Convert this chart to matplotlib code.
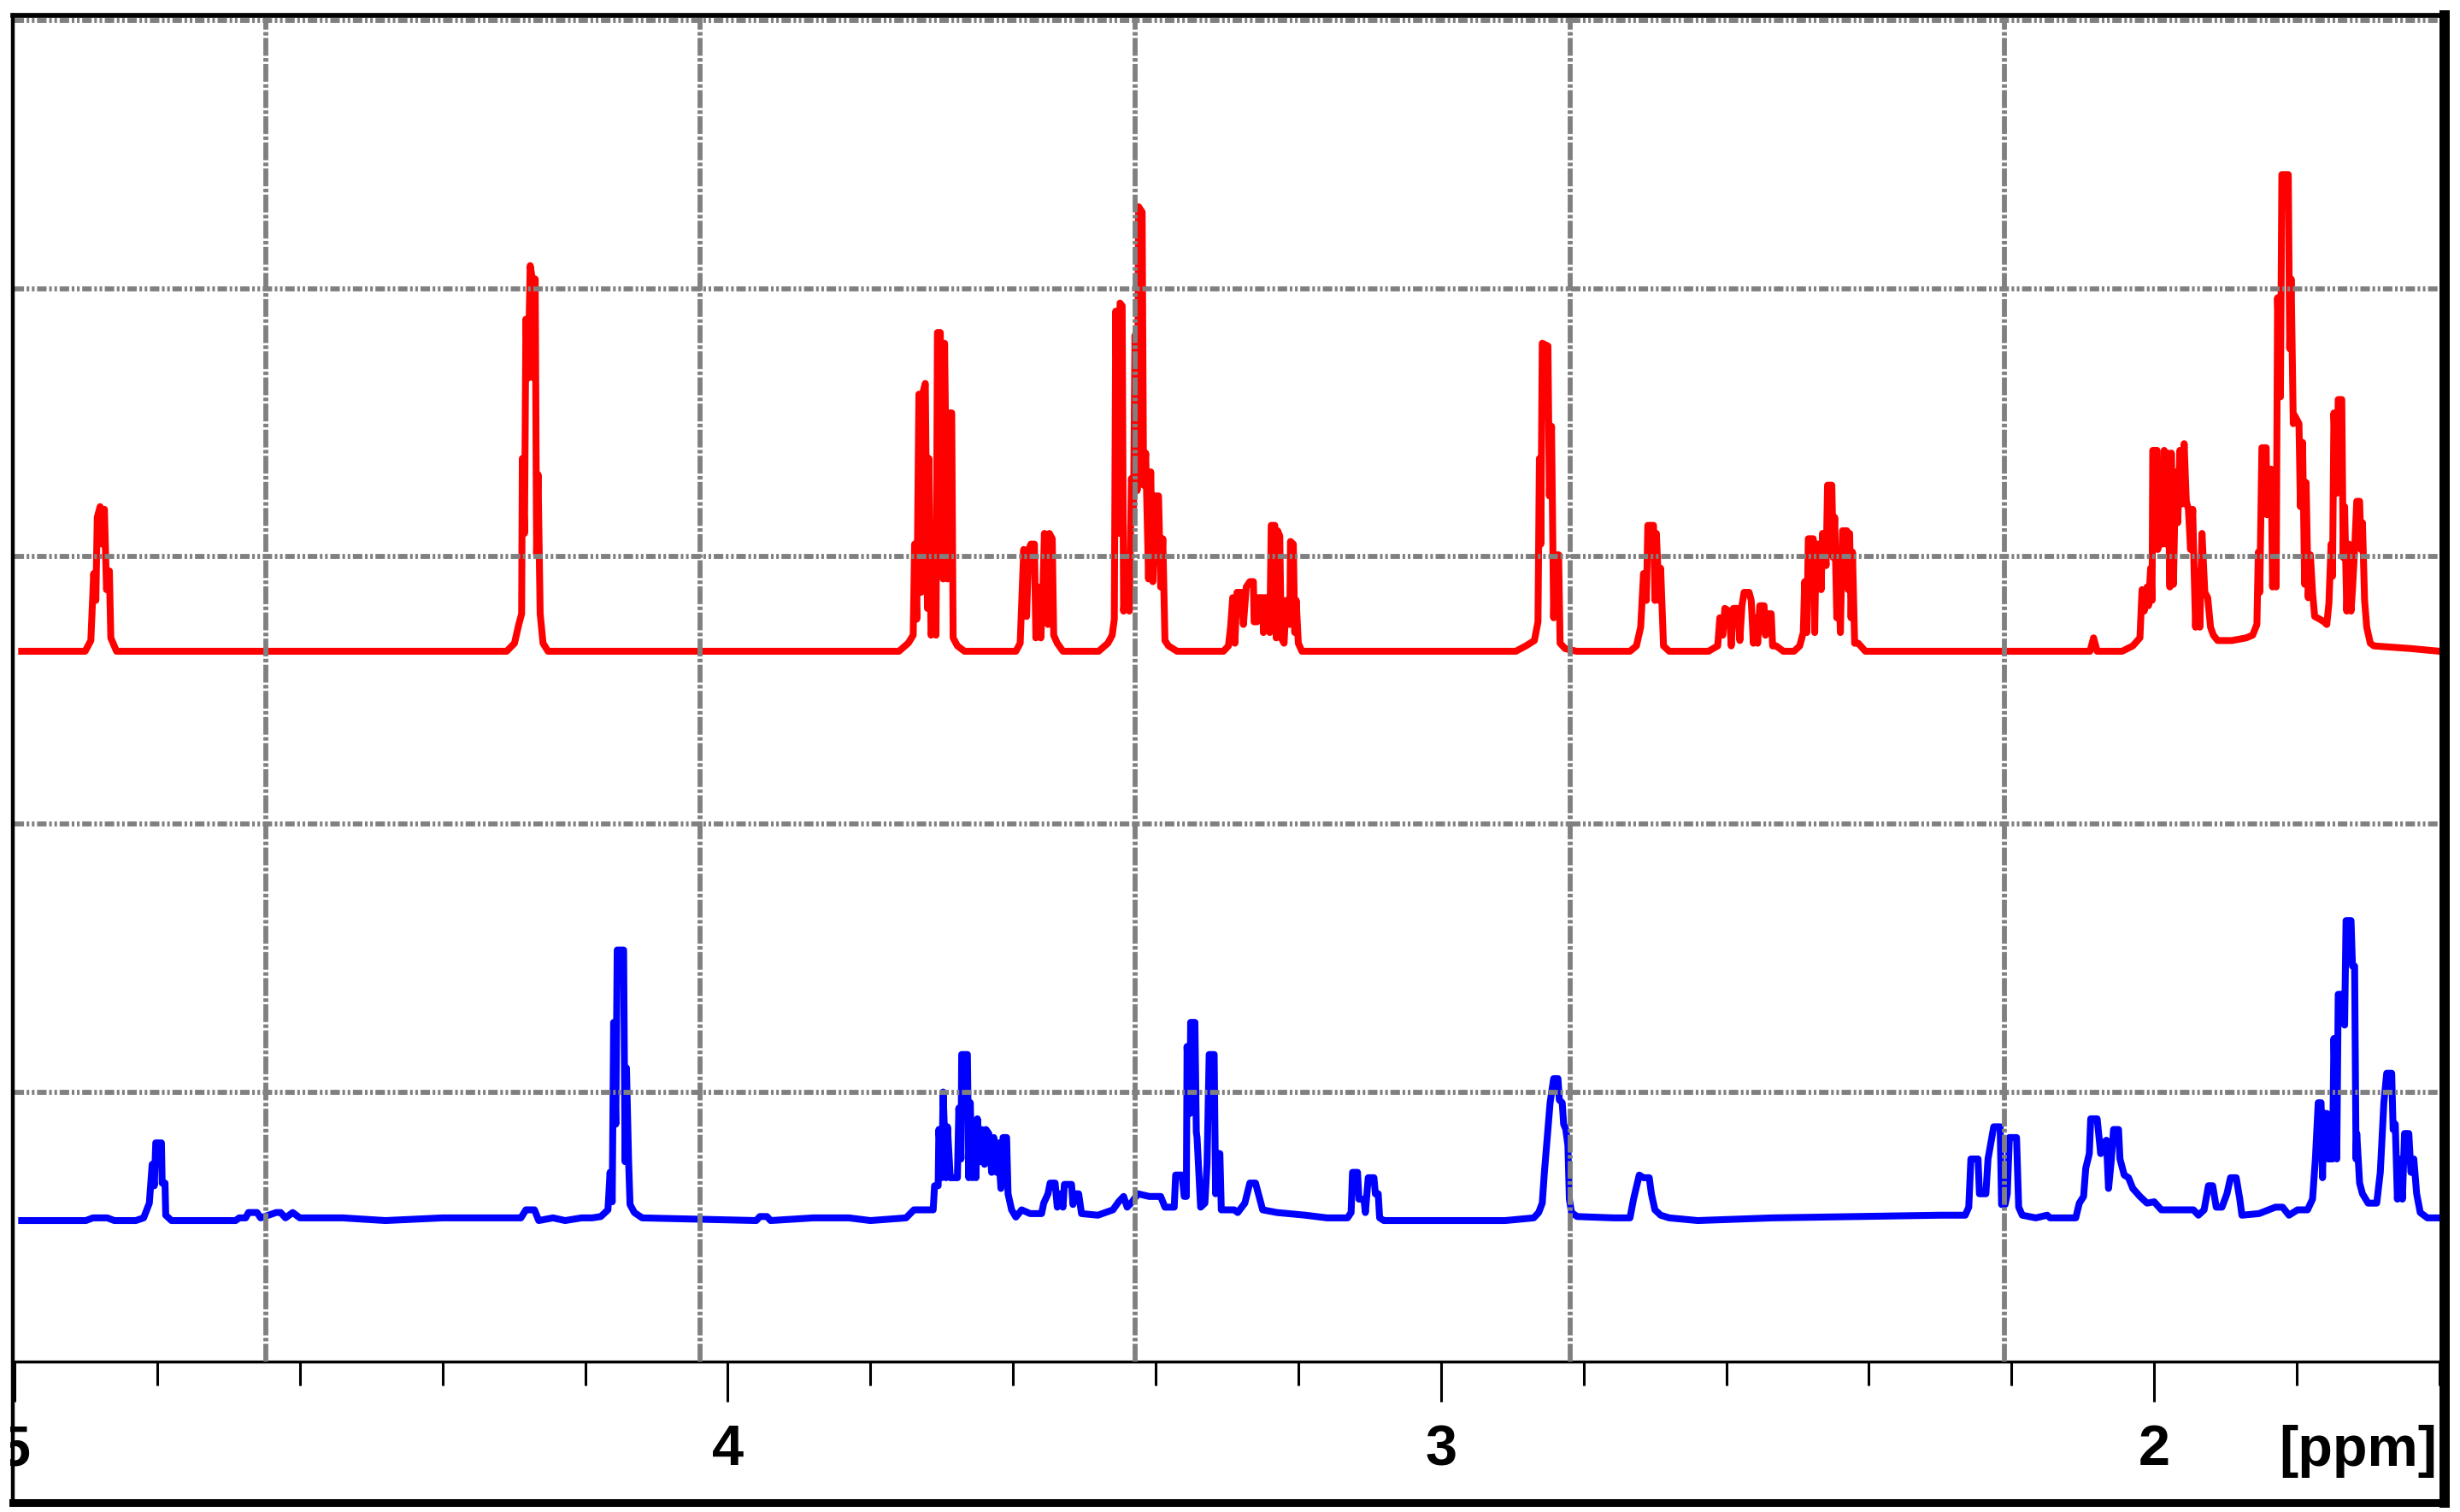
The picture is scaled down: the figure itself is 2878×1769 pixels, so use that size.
import matplotlib
matplotlib.use("Agg")
import numpy as np
import matplotlib.pyplot as plt
from matplotlib.lines import Line2D
from matplotlib.patches import Rectangle

plt.rcParams['font.family'] = ['Liberation Sans', 'DejaVu Sans']
plt.rcParams['lines.scale_dashes'] = False

# upper trace (red), intensity in grid units above its own baseline
red_ppm = [
    4.990,
    4.901, 4.893, 4.889, 4.886, 4.884, 4.880, 4.877, 4.874, 4.871, 4.867, 4.865, 4.857,
    4.310, 4.299, 4.293, 4.289, 4.288, 4.285, 4.283, 4.280, 4.277, 4.274, 4.272, 4.270, 4.268, 4.266, 4.263, 4.259, 4.252,
    3.760, 3.747, 3.740, 3.738, 3.735, 3.732, 3.729, 3.727, 3.723, 3.720, 3.718, 3.715, 3.712, 3.708, 3.706, 3.702,
    3.698, 3.696, 3.692, 3.690, 3.686, 3.684, 3.678, 3.668,
    3.596, 3.590, 3.585, 3.581, 3.578, 3.575, 3.570, 3.568, 3.564, 3.561, 3.558, 3.556, 3.551, 3.549, 3.545, 3.543,
    3.538, 3.530,
    3.480, 3.467, 3.461, 3.458, 3.456, 3.452, 3.450, 3.447, 3.445, 3.441, 3.437, 3.434, 3.431, 3.429, 3.426, 3.424,
    3.419, 3.417, 3.414, 3.410, 3.407, 3.404, 3.401, 3.396, 3.393, 3.390, 3.387, 3.382, 3.370,
    3.305, 3.298, 3.295, 3.292, 3.289, 3.286, 3.280, 3.277, 3.273, 3.268, 3.263, 3.262, 3.258, 3.256, 3.250, 3.249,
    3.246, 3.241, 3.240, 3.238, 3.233, 3.231, 3.229, 3.226, 3.224, 3.220, 3.217, 3.212, 3.211, 3.207, 3.205, 3.203,
    3.200, 3.195,
    2.895, 2.881, 2.869, 2.864, 2.862, 2.860, 2.858, 2.850, 2.848, 2.845, 2.842, 2.840, 2.835, 2.833, 2.826, 2.810,
    2.735, 2.726, 2.720, 2.716, 2.712, 2.710, 2.702, 2.700, 2.698, 2.694, 2.692, 2.688, 2.680,
    2.625, 2.612, 2.609, 2.605, 2.602, 2.596, 2.593, 2.590, 2.583, 2.581, 2.578, 2.575, 2.568, 2.565, 2.562, 2.558,
    2.556, 2.553, 2.547, 2.545, 2.541, 2.537, 2.535, 2.530, 2.520,
    2.505, 2.497, 2.492, 2.490, 2.487, 2.485, 2.478, 2.476, 2.474, 2.469, 2.467, 2.465, 2.460, 2.458, 2.452, 2.450,
    2.448, 2.445, 2.443, 2.440, 2.437, 2.431, 2.429, 2.427, 2.425, 2.423, 2.420, 2.415, 2.405,
    2.090, 2.085, 2.080,
    2.045, 2.030, 2.020, 2.017, 2.014, 2.010, 2.008, 2.005, 2.003, 2.002, 1.996, 1.995, 1.993, 1.989, 1.986, 1.983,
    1.981, 1.978, 1.976, 1.973, 1.970, 1.967, 1.964, 1.961, 1.958, 1.955, 1.952, 1.949, 1.946, 1.944, 1.942, 1.939,
    1.936, 1.933, 1.929, 1.925, 1.921, 1.917, 1.911, 1.891, 1.871, 1.862, 1.856,
    1.854, 1.852, 1.849, 1.843, 1.842, 1.840, 1.836, 1.834, 1.832, 1.829, 1.827, 1.823, 1.821, 1.812, 1.810, 1.808,
    1.805, 1.803, 1.797, 1.795, 1.792, 1.789, 1.787, 1.784, 1.781, 1.778, 1.775, 1.768, 1.762, 1.758, 1.755, 1.752,
    1.750, 1.748, 1.744, 1.742, 1.737, 1.735, 1.733, 1.730, 1.727, 1.724, 1.722, 1.719, 1.716, 1.712, 1.710, 1.708,
    1.705, 1.702, 1.697, 1.692, 1.640, 1.600,
]
red_int = [
    0.0,
    0.0, 0.04, 0.29, 0.19, 0.50, 0.54, 0.40, 0.53, 0.23, 0.30, 0.05, 0.0,
    0.0, 0.03, 0.10, 0.14, 0.72, 0.44, 1.24, 1.02, 1.44, 1.39, 1.02, 1.39, 0.36, 0.66, 0.14, 0.03, 0.0,
    0.0, 0.03, 0.06, 0.40, 0.12, 0.96, 0.22, 0.96, 1.00, 0.16, 0.72, 0.06, 0.10, 0.06, 1.19, 1.19,
    0.27, 1.15, 0.27, 0.89, 0.89, 0.05, 0.02, 0.0,
    0.0, 0.03, 0.38, 0.13, 0.38, 0.40, 0.40, 0.05, 0.24, 0.05, 0.24, 0.44, 0.10, 0.44, 0.42, 0.06,
    0.03, 0.0,
    0.0, 0.03, 0.06, 0.12, 1.27, 0.44, 1.30, 1.29, 0.15, 0.27, 0.15, 0.645, 0.54, 1.18, 0.60, 1.66,
    1.64, 0.62, 0.74, 0.27, 0.67, 0.26, 0.58, 0.58, 0.24, 0.42, 0.04, 0.02, 0.0,
    0.0, 0.02, 0.09, 0.20, 0.03, 0.22, 0.22, 0.10, 0.24, 0.26, 0.26, 0.11, 0.11, 0.20, 0.20, 0.07,
    0.20, 0.20, 0.07, 0.47, 0.47, 0.05, 0.45, 0.43, 0.05, 0.03, 0.19, 0.10, 0.41, 0.40, 0.07, 0.19,
    0.03, 0.0,
    0.0, 0.02, 0.04, 0.11, 0.72, 0.40, 1.15, 1.14, 0.58, 0.84, 0.125, 0.36, 0.36, 0.03, 0.01, 0.0,
    0.0, 0.02, 0.09, 0.29, 0.19, 0.47, 0.47, 0.19, 0.44, 0.19, 0.31, 0.02, 0.0,
    0.0, 0.02, 0.125, 0.06, 0.16, 0.15, 0.02, 0.16, 0.16, 0.04, 0.17, 0.22, 0.22, 0.19, 0.03, 0.125,
    0.03, 0.17, 0.17, 0.06, 0.14, 0.14, 0.02, 0.02, 0.0,
    0.0, 0.02, 0.07, 0.26, 0.07, 0.42, 0.42, 0.07, 0.40, 0.40, 0.23, 0.44, 0.32, 0.62, 0.62, 0.35,
    0.50, 0.125, 0.37, 0.07, 0.45, 0.45, 0.23, 0.44, 0.125, 0.37, 0.03, 0.03, 0.0,
    0.0, 0.05, 0.0,
    0.0, 0.02, 0.05, 0.23, 0.15, 0.24, 0.17, 0.31, 0.19, 0.75, 0.75, 0.38, 0.645, 0.40, 0.75, 0.40,
    0.74, 0.24, 0.74, 0.25, 0.67, 0.48, 0.75, 0.55, 0.775, 0.56, 0.53, 0.38, 0.53, 0.30, 0.09, 0.30,
    0.09, 0.44, 0.22, 0.20, 0.09, 0.06, 0.04, 0.04, 0.05, 0.06, 0.10,
    0.37, 0.22, 0.76, 0.76, 0.51, 0.68, 0.68, 0.24, 0.37, 0.24, 1.32, 0.95, 1.78, 1.78, 1.13, 1.39,
    0.85, 0.88, 0.85, 0.54, 0.78, 0.25, 0.63, 0.20, 0.36, 0.22, 0.13, 0.12, 0.11, 0.10, 0.18, 0.40,
    0.28, 0.89, 0.59, 0.94, 0.94, 0.35, 0.54, 0.15, 0.40, 0.15, 0.23, 0.38, 0.56, 0.56, 0.38, 0.48,
    0.19, 0.09, 0.03, 0.02, 0.01, 0.0,
]

# lower trace (blue)
blue_ppm = [
    4.990, 4.900, 4.890, 4.870, 4.860,
    4.830, 4.819, 4.811, 4.807, 4.804, 4.802, 4.794, 4.793, 4.789, 4.788, 4.780,
    4.690, 4.685, 4.676, 4.672, 4.660, 4.655, 4.633, 4.627, 4.620, 4.610, 4.600, 4.540, 4.480,
    4.400, 4.350, 4.290, 4.283, 4.271, 4.265, 4.245, 4.228, 4.205,
    4.190, 4.178, 4.168, 4.165, 4.162, 4.160, 4.157, 4.155, 4.146, 4.144, 4.142, 4.139, 4.137, 4.131, 4.120,
    3.960, 3.955, 3.945, 3.940, 3.880, 3.830, 3.800,
    3.750, 3.739, 3.712, 3.710, 3.705, 3.704, 3.700, 3.698, 3.694, 3.692, 3.688, 3.678, 3.676, 3.673, 3.672, 3.664,
    3.662, 3.660, 3.657, 3.655, 3.652, 3.650, 3.646, 3.644, 3.640, 3.638, 3.634, 3.630, 3.627, 3.623, 3.621, 3.617,
    3.614, 3.609, 3.607, 3.602, 3.596, 3.588, 3.576, 3.560, 3.557, 3.551, 3.548, 3.541, 3.538, 3.534, 3.530, 3.528,
    3.518, 3.516, 3.513, 3.508, 3.504, 3.481, 3.460, 3.452, 3.445, 3.440, 3.433, 3.425, 3.409, 3.393, 3.387, 3.374,
    3.372, 3.363, 3.360, 3.357, 3.356, 3.352, 3.351, 3.345, 3.343, 3.342, 3.337, 3.331, 3.328, 3.325, 3.318, 3.316,
    3.314, 3.310, 3.308, 3.290,
    3.285, 3.275, 3.268, 3.260, 3.255, 3.250, 3.230, 3.190, 3.160, 3.131, 3.126, 3.124, 3.117, 3.115, 3.108, 3.106,
    3.102, 3.094, 3.092, 3.088, 3.086, 3.080, 2.910,
    2.870, 2.863, 2.858, 2.855, 2.851, 2.847, 2.842, 2.836, 2.834, 2.830, 2.828, 2.825, 2.822, 2.820, 2.817, 2.809,
    2.758, 2.735, 2.730, 2.722,
    2.716, 2.708, 2.705, 2.700, 2.692, 2.680, 2.640, 2.535, 2.300, 2.265, 2.260, 2.257, 2.247, 2.245, 2.236, 2.233,
    2.229, 2.225, 2.216, 2.214, 2.209, 2.206, 2.203, 2.193, 2.190, 2.185, 2.166, 2.150,
    2.146, 2.110, 2.105, 2.099, 2.096, 2.091, 2.089, 2.080, 2.075, 2.071, 2.067, 2.064, 2.060, 2.057, 2.050, 2.048,
    2.042, 2.036, 2.030, 2.020, 2.010, 2.000, 1.990, 1.945, 1.938, 1.930, 1.924, 1.918, 1.913, 1.905, 1.898, 1.893,
    1.885, 1.880, 1.877, 1.853, 1.830, 1.820, 1.811, 1.799, 1.785, 1.778, 1.774, 1.770, 1.766, 1.764, 1.762, 1.758,
    1.756, 1.750, 1.748, 1.744, 1.742, 1.735, 1.733, 1.731, 1.724, 1.722, 1.719, 1.717, 1.716, 1.712, 1.708, 1.700,
    1.688, 1.683, 1.678, 1.674, 1.667, 1.665, 1.662, 1.659, 1.656, 1.652, 1.649, 1.643, 1.640, 1.636, 1.632, 1.627,
    1.617, 1.600,
]
blue_int = [
    0.0, 0.0, 0.01, 0.01, 0.0,
    0.0, 0.01, 0.065, 0.21, 0.13, 0.29, 0.29, 0.14, 0.14, 0.02, 0.0,
    0.0, 0.01, 0.01, 0.03, 0.03, 0.01, 0.03, 0.03, 0.01, 0.03, 0.01, 0.01, 0.0,
    0.01, 0.01, 0.01, 0.04, 0.04, 0.0, 0.01, 0.0, 0.01,
    0.01, 0.015, 0.04, 0.18, 0.07, 0.74, 0.36, 1.01, 1.01, 0.22, 0.57, 0.22, 0.06, 0.03, 0.01,
    0.0, 0.015, 0.015, 0.0, 0.01, 0.01, 0.0,
    0.01, 0.04, 0.04, 0.13, 0.13, 0.34, 0.16, 0.48, 0.16, 0.35, 0.16, 0.16, 0.42, 0.23, 0.62, 0.62,
    0.16, 0.44, 0.16, 0.31, 0.16, 0.38, 0.22, 0.34, 0.21, 0.34, 0.325, 0.18, 0.31, 0.18, 0.29, 0.12,
    0.31, 0.31, 0.10, 0.04, 0.013, 0.04, 0.026, 0.026, 0.065, 0.10, 0.14, 0.14, 0.05, 0.10, 0.05, 0.135,
    0.135, 0.06, 0.10, 0.10, 0.026, 0.02, 0.04, 0.07, 0.09, 0.05, 0.07, 0.10, 0.09, 0.09, 0.05, 0.05,
    0.17, 0.17, 0.09, 0.09, 0.65, 0.40, 0.74, 0.74, 0.33, 0.31, 0.05, 0.065, 0.21, 0.62, 0.62, 0.10,
    0.25, 0.25, 0.04, 0.04,
    0.03, 0.065, 0.14, 0.14, 0.09, 0.04, 0.03, 0.02, 0.01, 0.01, 0.03, 0.18, 0.18, 0.08, 0.08, 0.03,
    0.16, 0.16, 0.10, 0.10, 0.01, 0.0, 0.0,
    0.01, 0.03, 0.065, 0.18, 0.31, 0.44, 0.53, 0.53, 0.45, 0.44, 0.36, 0.34, 0.28, 0.08, 0.03, 0.015,
    0.01, 0.01, 0.08, 0.17,
    0.16, 0.16, 0.10, 0.04, 0.02, 0.01, 0.0, 0.01, 0.02, 0.02, 0.05, 0.23, 0.23, 0.10, 0.10, 0.23,
    0.29, 0.35, 0.35, 0.06, 0.06, 0.10, 0.31, 0.31, 0.05, 0.02, 0.01, 0.02,
    0.01, 0.01, 0.065, 0.09, 0.195, 0.25, 0.38, 0.38, 0.25, 0.29, 0.30, 0.12, 0.23, 0.34, 0.34, 0.23,
    0.17, 0.16, 0.12, 0.09, 0.065, 0.07, 0.04, 0.04, 0.02, 0.04, 0.13, 0.13, 0.05, 0.05, 0.10, 0.16,
    0.16, 0.08, 0.02, 0.026, 0.05, 0.05, 0.02, 0.04, 0.04, 0.08, 0.23, 0.44, 0.44, 0.16, 0.40, 0.40,
    0.23, 0.23, 0.68, 0.23, 0.845, 0.845, 0.73, 1.12, 1.12, 0.95, 0.95, 0.23, 0.325, 0.14, 0.10, 0.065,
    0.065, 0.18, 0.44, 0.55, 0.55, 0.34, 0.36, 0.08, 0.23, 0.08, 0.325, 0.325, 0.18, 0.23, 0.10, 0.03,
    0.01, 0.01,
]

red_offset = 2.646
blue_offset = 0.520

major_ticks = [5, 4, 3, 2]
tick_labels = ['5', '4', '3', '2']

W, H = 2878, 1769
fig = plt.figure(figsize=(W / 100, H / 100), dpi=100)
fig.patch.set_facecolor('white')

# plot area in pixels
left, right, top, bottom = 17, 2854, 21, 1592.5
ax = fig.add_axes([left / W, 1 - bottom / H, (right - left) / W, (bottom - top) / H])
ax.set_xlim(4.99, 1.60)
ax.set_ylim(-0.005, 5.011)

ax.plot(red_ppm, np.array(red_int) + red_offset, color='#ff0000', lw=5.8, zorder=2)
ax.plot(blue_ppm, np.array(blue_int) + blue_offset, color='#0000ff', lw=5.8, zorder=2)

# dotted grid, fixed spacing from the right edge
grid_step = 0.6096
for k in range(1, 6):
    ax.axvline(1.60 + k * grid_step, color='#808080', lw=4.2, dashes=(15, 2, 3, 2), zorder=3)
for yv in range(1, 6):
    ax.axhline(yv, color='#808080', lw=4.2, dashes=(8, 2.2, 2.2, 2.2, 2.2, 2.2), zorder=3)

ax.set_xticks(major_ticks)
ax.set_xticklabels(tick_labels)
ax.set_xticks(np.arange(1.6, 5.0, 0.2), minor=True)
ax.tick_params(axis='x', which='major', length=34, width=2.2, direction='out', pad=19,
               labelsize=48, color='black')
ax.tick_params(axis='x', which='minor', length=20, width=2.2, direction='out', color='black')
for lbl in ax.get_xticklabels():
    lbl.set_fontweight('bold')
ax.set_yticks([])
for side in ['left', 'top', 'right']:
    ax.spines[side].set_visible(False)
ax.spines['bottom'].set_linewidth(2.5)
ax.spines['bottom'].set_color('black')

fig.text(2851 / W, 1 - 1715 / H, '[ppm]', ha='right', va='baseline', fontsize=48, fontweight='bold')

# white margin hides the clipped part of the "5", then the outer frame
fig.add_artist(Rectangle((0, 0), 12 / W, 1, transform=fig.transFigure,
                         facecolor='white', edgecolor='none', zorder=5))


def frame_line(x0, y0, x1, y1, lw):
    fig.add_artist(Line2D([x0 / W, x1 / W], [1 - y0 / H, 1 - y1 / H], transform=fig.transFigure,
                          color='black', lw=lw, solid_capstyle='projecting', zorder=6))


frame_line(14.5, 18, 2860, 18, 4.1)
frame_line(14.5, 18, 14.5, 1757.5, 3.2)
frame_line(2860, 18, 2860, 1757.5, 8.6)
frame_line(14.5, 1757.5, 2860, 1757.5, 6.5)

fig.savefig('out.png', dpi=100, facecolor='white')
